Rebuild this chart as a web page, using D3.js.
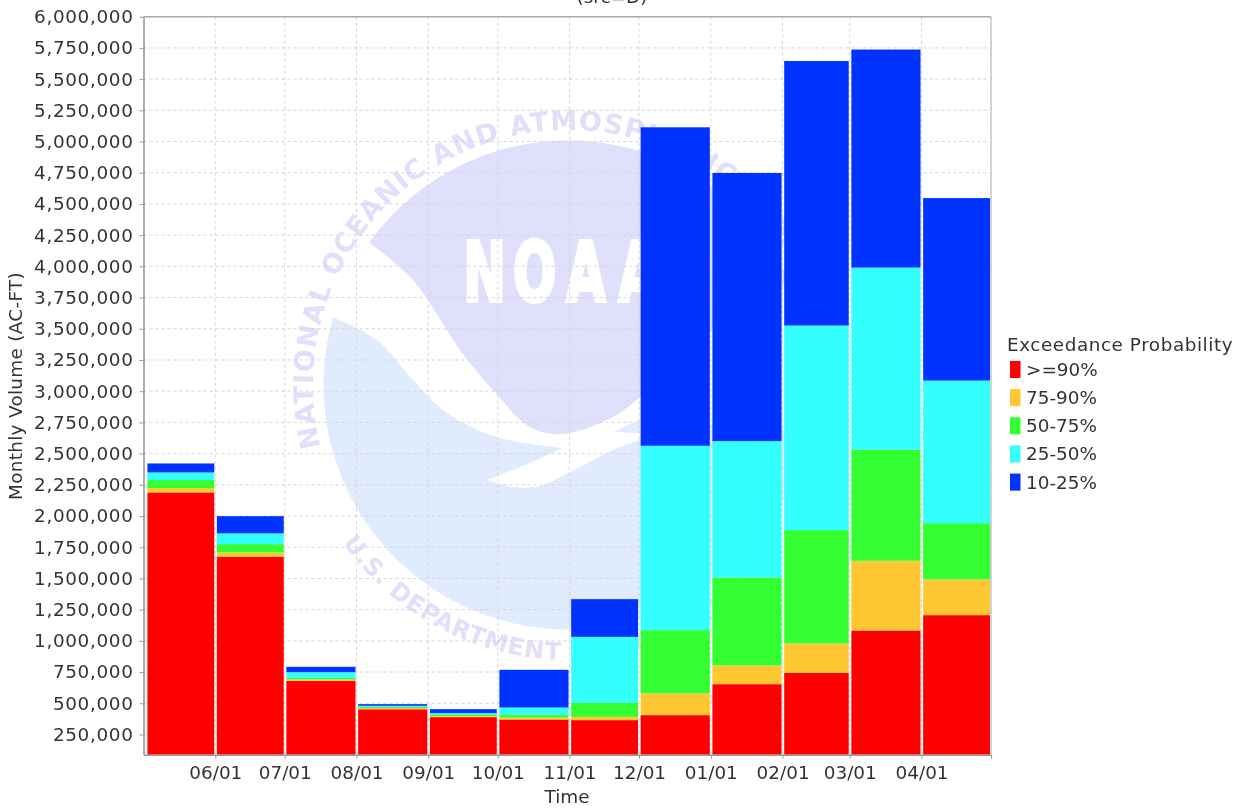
<!DOCTYPE html>
<html lang="en">

<head>
    <meta charset="UTF-8">
    <title>Monthly Volume</title>
    <script src="https://d3js.org/d3.v7.min.js"></script>
    <style>
        body { margin: 0; background: white; }
        text { font-family: "DejaVu Sans", sans-serif; fill: #333; }
    </style>
</head>

<body>
    <script>
        // bar edges, the first bar starts a little after the first of the month
        var barEdges = ["2015-05-02", "2015-06-01", "2015-07-01", "2015-08-01", "2015-09-01", "2015-10-01", "2015-11-01",
            "2015-12-01", "2016-01-01", "2016-02-01", "2016-03-01", "2016-04-01", "2016-05-01"];
        var tickDates = ["2015-06-01", "2015-07-01", "2015-08-01", "2015-09-01", "2015-10-01", "2015-11-01",
            "2015-12-01", "2016-01-01", "2016-02-01", "2016-03-01", "2016-04-01", "2016-05-01"];
        var categories = [">=90%", "75-90%", "50-75%", "25-50%", "10-25%"];
        var colors = ["#ff0000", "#ffc832", "#33ff33", "#33ffff", "#0033ff"];

        var over90 = [2189000, 1673000, 680000, 452000, 389000, 370000, 365000, 405000, 653000, 744000, 1083000, 1206000];
        var p75to90 = [35000, 35000, 10000, 10000, 8000, 15000, 26000, 174000, 150000, 235000, 558000, 286000];
        var p50to75 = [64000, 67000, 15000, 8000, 15000, 25000, 112000, 507000, 705000, 908000, 891000, 451000];
        var p25to50 = [61000, 86000, 44000, 10000, 9000, 56000, 529000, 1477000, 1092000, 1639000, 1458000, 1142000];
        var p10to25 = [72000, 138000, 43000, 13000, 32000, 302000, 302000, 2551000, 2148000, 2119000, 1747000, 1462000];
        var series = [over90, p75to90, p50to75, p25to50, p10to25];

        var yTicks = [250000, 500000, 750000, 1000000, 1250000, 1500000, 1750000, 2000000, 2250000, 2500000, 2750000, 3000000,
            3250000, 3500000, 3750000, 4000000, 4250000, 4500000, 4750000, 5000000, 5250000, 5500000, 5750000, 6000000];

        var width = 1244;
        var height = 809;
        var left = 143.5, right = 991, top_ = 16.7, bottom = 754.7;
        var fontSize = 18.4;

        var x = d3.scaleUtc()
            .domain([new Date("2015-05-01"), new Date("2016-05-01")])
            .range([left, right]);
        var y = d3.scaleLinear().domain([88000, 6000000]).range([bottom, top_]).clamp(true);

        var svg = d3.select("body")
            .append("svg")
            .attr("width", width)
            .attr("height", height)
            .style("display", "block")
            .style("filter", "blur(0.45px)");

        // noaa logo behind the grid
        var cx = 568, cy = 385, r = 244.5;
        var logo = svg.append("g");
        var line = d3.line().curve(d3.curveCatmullRom);

        function ringPoint(radius, deg) {
            var a = deg * Math.PI / 180;
            return [cx + radius * Math.sin(a), cy - radius * Math.cos(a)];
        }
        function ringPath(radius, from, to, sweep) {
            var b = ringPoint(radius, to);
            var large = Math.abs(to - from) > 180 ? 1 : 0;
            return "M" + ringPoint(radius, from).join(" ") +
                "A" + radius + " " + radius + " 0 " + large + " " + sweep + " " + b.join(" ");
        }

        var upperTip = ringPoint(r, -54.4), upperEnd = ringPoint(r, 65);
        var lowerTip = ringPoint(r, -73.9), lowerEnd = ringPoint(r, 100);

        logo.append("path")
            .attr("fill", "#e0e0fc")
            .attr("d", line([upperTip, [413, 280], [460, 350], [493, 390], [530, 427], [563, 434], [613, 417], [640, 397], [700, 340], upperEnd])
                + "A" + r + " " + r + " 0 0 0 " + upperTip.join(" ") + "Z");
        logo.append("path")
            .attr("fill", "#e0ebfd")
            .attr("d", line([lowerTip, [377, 340], [413, 380], [447, 413], [497, 437], [562, 448]])
                + line([[562, 448], [530, 463], [487, 480]]).replace("M", "L")
                + line([[487, 480], [513, 487], [540, 486], [570, 472], [613, 450], [640, 440], [700, 425], lowerEnd]).replace("M", "L")
                + "A" + r + " " + r + " 0 1 1 " + lowerTip.join(" ") + "Z");
        logo.append("path")
            .attr("fill", "#e0ebfd")
            .attr("d", "M613 432L640 420L640 433Z");

        var noaaLetters = ["N", "O", "A", "A"];
        var noaaX = [484.5, 534.5, 586, 638];
        logo.selectAll("text.noaa")
            .data(noaaLetters)
            .enter()
            .append("text")
            .attr("class", "noaa")
            .attr("transform", function (d, i) { return "translate(" + noaaX[i] + ",301) scale(0.62,1)"; })
            .attr("text-anchor", "middle")
            .style("font-size", "82px")
            .style("font-weight", "bold")
            .style("fill", "white")
            .style("stroke", "white")
            .style("stroke-width", 4)
            .text(function (d) { return d; });

        var defs = svg.append("defs");
        defs.append("path").attr("id", "ringTop").attr("d", ringPath(255, -104, 104, 1));
        defs.append("path").attr("id", "ringBottom").attr("d", ringPath(275, 235, 136, 0));

        logo.append("text")
            .style("font-size", "27px")
            .style("font-weight", "bold")
            .style("fill", "#e0e0fc")
            .append("textPath")
            .attr("href", "#ringTop")
            .attr("textLength", 925)
            .text("NATIONAL OCEANIC AND ATMOSPHERIC ADMINISTRATION");
        logo.append("text")
            .style("font-size", "24px")
            .style("font-weight", "bold")
            .style("fill", "#e0e0fc")
            .append("textPath")
            .attr("href", "#ringBottom")
            .attr("textLength", 475)
            .text("U.S. DEPARTMENT OF COMMERCE");

        // grid
        var grid = svg.append("g")
            .attr("stroke", "#d4d4d4")
            .attr("stroke-dasharray", "3,3");
        grid.selectAll("line.h")
            .data(yTicks.slice(0, -1))
            .enter()
            .append("line")
            .attr("class", "h")
            .attr("x1", left).attr("x2", right)
            .attr("y1", function (d) { return y(d); })
            .attr("y2", function (d) { return y(d); });
        grid.selectAll("line.v")
            .data(tickDates)
            .enter()
            .append("line")
            .attr("class", "v")
            .attr("y1", top_).attr("y2", bottom)
            .attr("x1", function (d) { return x(new Date(d)); })
            .attr("x2", function (d) { return x(new Date(d)); });

        // bars
        var table = barEdges.slice(0, -1).map(function (d, i) {
            var row = { start: new Date(d), end: new Date(barEdges[i + 1]) };
            categories.forEach(function (c, j) { row[c] = series[j][i]; });
            return row;
        });
        var stacked = d3.stack().keys(categories)(table);

        svg.selectAll("g.band")
            .data(stacked)
            .enter()
            .append("g")
            .attr("class", "band")
            .attr("fill", function (d, i) { return colors[i]; })
            .selectAll("rect")
            .data(function (d) { return d; })
            .enter()
            .append("rect")
            .attr("x", function (d) { return x(d.data.start) + 1.6; })
            .attr("width", function (d) { return x(d.data.end) - x(d.data.start) - 2.6; })
            .attr("y", function (d) { return y(d[1]); })
            .attr("height", function (d) { return y(d[0]) - y(d[1]); });

        // axes
        var xAxis = d3.axisBottom(x)
            .tickValues(tickDates.map(function (d) { return new Date(d); }))
            .tickFormat(function (d, i) { return i < tickDates.length - 1 ? d3.utcFormat("%m/%d")(d) : ""; })
            .tickSize(4)
            .tickPadding(7)
            .tickSizeOuter(0);
        var yAxis = d3.axisLeft(y)
            .tickValues(yTicks)
            .tickFormat(d3.format(","))
            .tickSize(4)
            .tickPadding(6)
            .tickSizeOuter(0);

        var gx = svg.append("g").attr("transform", "translate(0," + bottom + ")").call(xAxis);
        var gy = svg.append("g").attr("transform", "translate(" + left + ",0)").call(yAxis);
        [gx, gy].forEach(function (g) {
            g.selectAll("text").style("font-family", "DejaVu Sans").style("font-size", fontSize + "px").attr("fill", "#333");
            g.selectAll("line").attr("stroke", "#999");
            g.select(".domain").attr("stroke", "#999").attr("stroke-width", 1.6);
        });
        gy.selectAll("text").style("letter-spacing", "0.65px");

        svg.append("line")
            .attr("x1", left).attr("x2", right)
            .attr("y1", top_).attr("y2", top_)
            .attr("stroke", "#aaa").attr("stroke-width", 1.5);
        svg.append("line")
            .attr("x1", right).attr("x2", right)
            .attr("y1", top_).attr("y2", bottom)
            .attr("stroke", "#c8c8c8").attr("stroke-width", 1.5);

        // titles
        svg.append("text")
            .attr("x", 612).attr("y", 3)
            .attr("text-anchor", "middle")
            .style("font-size", fontSize + "px")
            .text("(src=D)");
        svg.append("text")
            .attr("x", 567).attr("y", 803)
            .attr("text-anchor", "middle")
            .style("font-size", fontSize + "px")
            .text("Time");
        svg.append("text")
            .attr("transform", "translate(22,386) rotate(-90)")
            .attr("text-anchor", "middle")
            .style("font-size", fontSize + "px")
            .style("letter-spacing", "0.3px")
            .text("Monthly Volume (AC-FT)");

        // legend
        var legend = svg.append("g");
        legend.append("text")
            .attr("x", 1007).attr("y", 351)
            .style("font-size", fontSize + "px")
            .style("letter-spacing", "0.55px")
            .text("Exceedance Probability");
        var rows = legend.selectAll("g")
            .data(categories)
            .enter()
            .append("g")
            .attr("transform", function (d, i) { return "translate(1010," + (361 + i * 28.15) + ")"; });
        rows.append("rect")
            .attr("width", 10.5)
            .attr("height", 17)
            .attr("fill", function (d, i) { return colors[i]; });
        rows.append("text")
            .attr("x", 16).attr("y", 15)
            .style("font-size", fontSize + "px")
            .text(function (d) { return d; });
    </script>
</body>

</html>
